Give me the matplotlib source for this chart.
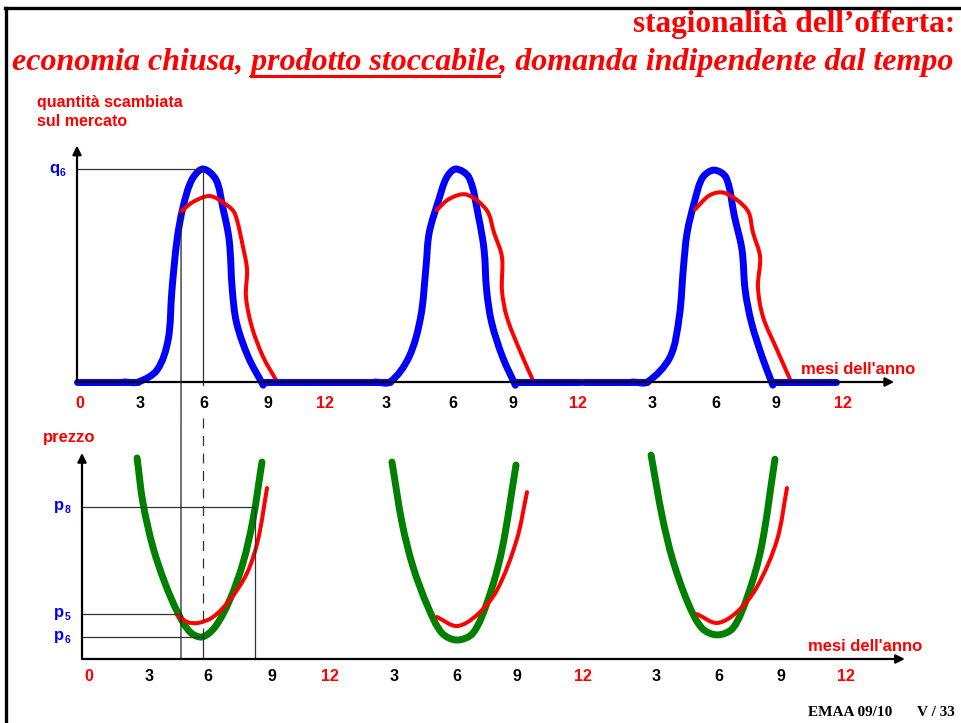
import numpy as np
import matplotlib.pyplot as plt
from matplotlib.path import Path
from matplotlib.patches import PathPatch, ConnectionPatch
from matplotlib.lines import Line2D

W, H = 962, 723
SANS = 'Liberation Sans'
SERIF = 'Liberation Serif'
RED, BLUE, GREEN = '#ff0000', '#0000ff', '#008000'

# ---------------- data ----------------
# top panel: quantity exchanged (q6 = 1), x = months over three years
blue_flat_start = [0, 8.75, 20.6, 23.8, 32.7]
blue_flat_end = [2.87, 14.71, 23.64, 26.8, 35.67]

blue1_x = [2.2, 2.87, 3.76, 4.28, 4.46, 4.7, 4.98, 5.4, 5.92, 6.53, 6.85, 7.15, 7.3, 7.5, 8.05, 8.75]
blue1_q = [0, 0, 0.056, 0.197, 0.43, 0.667, 0.82, 0.95, 1.0, 0.95, 0.82, 0.667, 0.43, 0.277, 0.117, -0.015]
blue2_x = [14.0, 14.71, 15.6, 16.15, 16.4, 16.55, 17.0, 17.37, 17.8, 18.42, 18.87, 19.13, 19.25, 19.49, 20.0, 20.6]
blue2_q = [0, 0, 0.117, 0.305, 0.54, 0.70, 0.855, 0.96, 1.0, 0.96, 0.775, 0.62, 0.43, 0.277, 0.117, -0.015]
blue3_x = [26.1, 26.8, 27.87, 28.3, 28.5, 28.67, 29.04, 29.4, 29.93, 30.5, 30.9, 31.25, 31.4, 31.7, 32.2, 32.7]
blue3_q = [0, 0, 0.117, 0.305, 0.54, 0.70, 0.855, 0.96, 0.995, 0.96, 0.775, 0.62, 0.43, 0.277, 0.117, -0.015]

red1_x = [4.89, 5.45, 6.25, 7.05, 7.42, 7.8, 7.99, 7.94, 8.22, 8.75, 9.35]
red1_q = [0.80, 0.845, 0.873, 0.83, 0.79, 0.634, 0.526, 0.40, 0.258, 0.117, 0.01]
red2_x = [16.9, 17.5, 18.3, 19.25, 19.6, 19.97, 19.97, 20.2, 20.8, 21.4]
red2_q = [0.807, 0.86, 0.88, 0.807, 0.70, 0.587, 0.43, 0.305, 0.15, 0.014]
red3_x = [29.04, 29.75, 30.45, 31.5, 31.77, 32.1, 32.0, 32.24, 32.9, 33.5]
red3_q = [0.81, 0.878, 0.887, 0.807, 0.70, 0.587, 0.446, 0.305, 0.15, 0.014]

# bottom panel: price
green1_x = [2.61, 2.89, 3.36, 3.93, 4.55, 5.12, 5.69, 6.3, 7.0, 7.63, 8.1, 8.53]
green1_p = [0.976, 0.757, 0.544, 0.369, 0.223, 0.131, 0.107, 0.155, 0.286, 0.466, 0.675, 0.956]
green2_x = [14.69, 15.17, 15.69, 16.4, 17.06, 17.77, 18.53, 19.24, 19.9, 20.57]
green2_p = [0.956, 0.66, 0.447, 0.252, 0.126, 0.092, 0.126, 0.286, 0.529, 0.942]
green3_x = [26.97, 27.5, 28.0, 28.72, 29.38, 30.1, 30.85, 31.56, 32.2, 32.84]
green3_p = [0.99, 0.69, 0.48, 0.272, 0.15, 0.117, 0.15, 0.31, 0.544, 0.97]

redp1_x = [4.5, 4.98, 5.5, 6.21, 7.0, 7.82, 8.34, 8.77]
redp1_p = [0.214, 0.18, 0.175, 0.204, 0.286, 0.417, 0.578, 0.83]
redp2_x = [16.82, 17.77, 18.72, 19.67, 20.6, 21.09]
redp2_p = [0.204, 0.16, 0.214, 0.335, 0.578, 0.81]
redp3_x = [29.15, 30.1, 31.04, 31.99, 32.94, 33.41]
redp3_p = [0.218, 0.175, 0.228, 0.35, 0.578, 0.83]

# guide levels
q6 = 1.0
p5, p6, p8 = 0.218, 0.107, 0.738
m_peak_top, m_store_top = 5.92, 4.89
m_p6_bot, m_store_bot, m_p8_bot = 5.73, 4.69, 8.2

month_labels = ['0', '3', '6', '9', '12', '3', '6', '9', '12', '3', '6', '9', '12']
label_colors = ['red' if s in ('0', '12') else 'black' for s in month_labels]
top_label_pos = [0.14, 2.96, 5.97, 8.98, 11.65, 14.52, 17.67, 20.49, 23.54, 27.02, 30.03, 32.85, 36.0]
bot_label_pos = [0.33, 3.18, 5.97, 9.0, 11.75, 14.79, 17.77, 20.62, 23.74, 27.2, 30.2, 33.13, 36.2]


def smooth(ax, xs, ys, **kw):
    # smooth stroke through the read points (chord-length Catmull-Rom as Bezier)
    pts = np.column_stack([xs, ys]).astype(float)
    disp = ax.transData.transform(pts)
    t = np.concatenate([[0], np.cumsum(np.hypot(*np.diff(disp, axis=0).T))])
    n = len(pts)
    tang = np.zeros_like(pts)
    tang[0] = (pts[1] - pts[0]) / (t[1] - t[0])
    tang[-1] = (pts[-1] - pts[-2]) / (t[-1] - t[-2])
    for i in range(1, n - 1):
        tang[i] = (pts[i + 1] - pts[i - 1]) / (t[i + 1] - t[i - 1])
    verts, codes = [pts[0]], [Path.MOVETO]
    for i in range(n - 1):
        h = t[i + 1] - t[i]
        verts += [pts[i] + tang[i] * h / 3, pts[i + 1] - tang[i + 1] * h / 3, pts[i + 1]]
        codes += [Path.CURVE4] * 3
    ax.add_patch(PathPatch(Path(verts, codes), fill=False, capstyle='round',
                           joinstyle='round', clip_on=False, **kw))


fig = plt.figure(figsize=(W / 100, H / 100), dpi=100)

# top axes: month 0 at px 77, 21.28 px / month ; q=0 at px 382, q=1 at px 169
ax_q = fig.add_axes([77 / W, 1 - 382 / H, 36 * 21.28 / W, 213 / H])
ax_q.set_xlim(0, 36)
ax_q.set_ylim(0, 1)
ax_q.axis('off')
# bottom axes: month 0 at px 82, 21.1 px / month ; p=0 at px 659, p=1 at px 453
ax_p = fig.add_axes([82 / W, 1 - 659 / H, 36 * 21.1 / W, 206 / H])
ax_p.set_xlim(0, 36)
ax_p.set_ylim(0, 1)
ax_p.axis('off')

arrow = dict(arrowstyle='-|>', lw=1.6, color='black', mutation_scale=13, shrinkA=0, shrinkB=0)
ax_q.annotate('', xy=(38.4, 0), xytext=(0, 0), arrowprops=arrow, annotation_clip=False)
ax_q.annotate('', xy=(0, 1.11), xytext=(0, 0), arrowprops=arrow, annotation_clip=False)
ax_p.annotate('', xy=(39.0, 0), xytext=(0, 0), arrowprops=arrow, annotation_clip=False)
ax_p.annotate('', xy=(0, 1.0), xytext=(0, 0), arrowprops=arrow, annotation_clip=False)

# guide lines
gl = dict(color='#333333', lw=0.9, clip_on=False)
ax_q.plot([0, m_peak_top], [q6, q6], **gl)
ax_q.plot([m_peak_top, m_peak_top], [q6, -0.015], **gl)
ax_p.plot([0, redp1_x[0]], [p5, p5], **gl)
ax_p.plot([0, m_p6_bot], [p6, p6], **gl)
ax_p.plot([m_p6_bot, m_p6_bot], [p6, 0], **gl)
ax_p.plot([m_p6_bot, m_p6_bot], [1.17, p6], color='#333333', lw=0.9, clip_on=False,
          linestyle=(0, (8, 6)))
ax_p.plot([0, m_p8_bot, m_p8_bot], [p8, p8, 0], **gl)
fig.add_artist(ConnectionPatch((m_store_top, red1_q[0]), (m_store_bot, 0), 'data', 'data',
                               axesA=ax_q, axesB=ax_p, color='#222222', lw=0.9))

# quantity curves
for a, b in zip(blue_flat_start, blue_flat_end):
    ax_q.plot([a, b], [0, 0], color=BLUE, lw=5, solid_capstyle='round', clip_on=False)
for xs, ys in [(blue1_x, blue1_q), (blue2_x, blue2_q), (blue3_x, blue3_q)]:
    smooth(ax_q, xs, ys, edgecolor=BLUE, lw=5)
for xs, ys in [(red1_x, red1_q), (red2_x, red2_q), (red3_x, red3_q)]:
    smooth(ax_q, xs, ys, edgecolor=RED, lw=2.9)

# price curves
for xs, ys in [(green1_x, green1_p), (green2_x, green2_p), (green3_x, green3_p)]:
    smooth(ax_p, xs, ys, edgecolor=GREEN, lw=5)
for xs, ys in [(redp1_x, redp1_p), (redp2_x, redp2_p), (redp3_x, redp3_p)]:
    smooth(ax_p, xs, ys, edgecolor=RED, lw=2.9)

# month labels
lab = dict(fontsize=11.5, fontweight='bold', family=SANS, ha='center', va='center')
for pos, s, c in zip(top_label_pos, month_labels, label_colors):
    ax_q.text(pos, -0.1, s, color=c, **lab)
for pos, s, c in zip(bot_label_pos, month_labels, label_colors):
    ax_p.text(pos, -0.087, s, color=c, **lab)

ax_q.text(34.0, 0.057, "mesi dell'anno", color=RED, fontsize=12, fontweight='bold',
          family=SANS, va='center', ha='left')
ax_p.text(34.4, 0.063, "mesi dell'anno", color=RED, fontsize=12, fontweight='bold',
          family=SANS, va='center', ha='left')

# axis names and level labels
name = dict(color=RED, fontweight='bold', family=SANS, va='baseline', ha='left')
fig.text(37 / W, 1 - 107 / H, 'quantità scambiata', fontsize=11.5, **name)
fig.text(37 / W, 1 - 126 / H, 'sul mercato', fontsize=11.5, **name)
fig.text(43 / W, 1 - 442 / H, 'prezzo', fontsize=12, **name)

sub = dict(color=BLUE, fontweight='bold', family=SANS, va='baseline', ha='left')
ax_q.annotate('q', (0, q6), xytext=(-20, -3), textcoords='offset points', fontsize=12, **sub)
ax_q.annotate('6', (0, q6), xytext=(-12.5, -5), textcoords='offset points', fontsize=7.5, **sub)
for lvl, s in [(p8, '8'), (p5, '5'), (p6, '6')]:
    ax_p.annotate('p', (0, lvl), xytext=(-20, -2), textcoords='offset points', fontsize=12, **sub)
    ax_p.annotate(s, (0, lvl), xytext=(-12.5, -4), textcoords='offset points', fontsize=7.5, **sub)

# titles
fig.text(955 / W, 1 - 32 / H, 'stagionalità dell’offerta:', color=RED, fontsize=22.5,
         fontweight='bold', family=SERIF, ha='right', va='baseline')
sub_props = dict(color=RED, fontsize=23, fontweight='bold', style='italic', family=SERIF,
                 va='baseline', ha='left')
subtitle = 'economia chiusa, prodotto stoccabile, domanda indipendente dal tempo'
fig.text(12 / W, 1 - 70 / H, subtitle, **sub_props)

r = fig.canvas.get_renderer()


def text_width(s):
    tmp = fig.text(0, 0, s, **sub_props)
    w = tmp.get_window_extent(r).width
    tmp.remove()
    return w


x_end = 12 + text_width('economia chiusa, prodotto stoccabile')
x_start = x_end - text_width('prodotto stoccabile')
fig.add_artist(Line2D([x_start / W, x_end / W], [1 - 76 / H, 1 - 76 / H], color=RED, lw=2.2))

fig.text(808 / W, 1 - 716 / H, 'EMAA 09/10', color='black', fontsize=11, fontweight='bold',
         family=SERIF, ha='left', va='baseline')
fig.text(955 / W, 1 - 716 / H, 'V / 33', color='black', fontsize=11, fontweight='bold',
         family=SERIF, ha='right', va='baseline')

# slide frame
fig.add_artist(Line2D([6 / W, 6 / W], [0, 1 - 8 / H], color='black', lw=2.4))
fig.add_artist(Line2D([5 / W, 1], [1 - 8 / H, 1 - 8 / H], color='black', lw=2.4))

fig.savefig('out.png', dpi=100)
